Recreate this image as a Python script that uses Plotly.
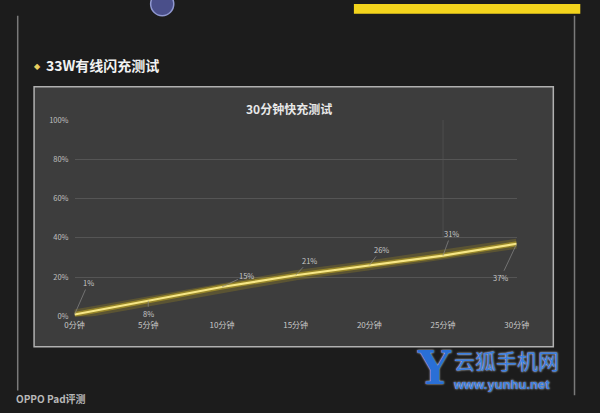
import plotly.graph_objects as go

minutes = [0, 5, 10, 15, 20, 25, 30]
x_labels = ["0分钟", "5分钟", "10分钟", "15分钟", "20分钟", "25分钟", "30分钟"]
battery = [1, 8, 15, 21, 26, 31, 37]
point_labels = ["1%", "8%", "15%", "21%", "26%", "31%", "37%"]
y_ticks = [0, 20, 40, 60, 80, 100]
y_tick_labels = ["0%", "20%", "40%", "60%", "80%", "100%"]

W, H = 600, 413
def px(x): return x / W
def py(y): return 1 - y / H

fig = go.Figure()
# glow
fig.add_trace(go.Scatter(x=minutes, y=battery, mode="lines",
                         line=dict(color="rgba(200,170,20,0.22)", width=10),
                         hoverinfo="skip", showlegend=False))
fig.add_trace(go.Scatter(x=minutes, y=battery, mode="lines",
                         line=dict(color="rgba(220,190,30,0.45)", width=5),
                         hoverinfo="skip", showlegend=False))
fig.add_trace(go.Scatter(x=minutes, y=battery, mode="lines",
                         line=dict(color="#f6e685", width=2.2),
                         showlegend=False))

offsets = [(14, -32), (0, 13), (25, -12), (14, -15), (12, -16), (8, -22), (-16, 34)]
annotations = []
for m, v, t, (ax, ay) in zip(minutes, battery, point_labels, offsets):
    annotations.append(dict(x=m, y=v, xref="x", yref="y", text=t, showarrow=True,
                            arrowhead=0, arrowwidth=0.7, arrowcolor="#8a8a8a",
                            ax=ax, ay=ay, font=dict(size=7.5, color="#c8c8c8",
                            family="Noto Sans CJK SC"), standoff=0, startstandoff=0))

annotations += [
    dict(text="<b>30分钟快充测试</b>", x=px(290), y=py(105), xref="paper", yref="paper",
         showarrow=False, font=dict(size=12, color="#e8e8e8", family="Noto Sans CJK SC"),
         xanchor="center", yanchor="middle"),
    dict(text="<b>33W有线闪充测试</b>", x=px(35), y=py(61), xref="paper", yref="paper",
         showarrow=False, font=dict(size=14, color="#f2f2f2", family="Noto Sans CJK SC"),
         xanchor="left", yanchor="middle"),
    dict(text="◆", x=px(29), y=py(61), xref="paper", yref="paper", showarrow=False,
         font=dict(size=8, color="#e8d060"), xanchor="center", yanchor="middle"),
    dict(text="<b>OPPO Pad评测</b>", x=px(4), y=py(403), xref="paper", yref="paper",
         showarrow=False, font=dict(size=10, color="#b8b8b8", family="Noto Sans CJK SC"),
         xanchor="left", yanchor="middle"),
    dict(text="<b>Y</b>", x=px(441), y=py(372), xref="paper", yref="paper",
         showarrow=False, font=dict(size=46, color="#2a6fd6", family="DejaVu Serif",
                                    shadow="0 0 2px #ffffff"),
         xanchor="center", yanchor="middle"),
    dict(text="云狐手机网", x=px(459), y=py(364), xref="paper", yref="paper",
         showarrow=False, font=dict(size=21, color="#3a7ee0", family="Noto Sans CJK SC",
                                    shadow="0 0 2px #ffffff"),
         xanchor="left", yanchor="middle"),
    dict(text="<b>www.yunhu.net</b>", x=px(458), y=py(389), xref="paper", yref="paper",
         showarrow=False, font=dict(size=13, color="#3a7ee0", family="Liberation Sans",
                                    shadow="0 0 2px #ffffff"),
         xanchor="left", yanchor="middle"),
]

shapes = [
    dict(type="rect", xref="paper", yref="paper", x0=px(25), x1=px(564), y0=py(350), y1=py(83),
         fillcolor="#3d3d3d", line=dict(color="#b0b0b0", width=1.5), layer="below"),
    dict(type="line", xref="paper", yref="paper", x0=px(8), x1=px(8), y0=py(10), y1=py(395),
         line=dict(color="#7a7a7a", width=1.5), layer="below"),
    dict(type="line", xref="paper", yref="paper", x0=px(586), x1=px(586), y0=py(10), y1=py(400),
         line=dict(color="#7a7a7a", width=1.5), layer="below"),
    dict(type="rect", xref="paper", yref="paper", x0=px(357), x1=px(592), y0=py(8), y1=py(-2),
         fillcolor="#f3d41c", line=dict(color="#f3d41c", width=0), layer="below"),
    dict(type="circle", xref="paper", yref="paper", x0=px(146), x1=px(170), y0=py(10), y1=py(-14),
         fillcolor="#4a4f8a", line=dict(color="#9098d0", width=1.5), layer="below"),
    dict(type="line", xref="x", yref="y", x0=minutes[5], x1=minutes[5], y0=40, y1=y_ticks[-1],
         line=dict(color="#4d4d4d", width=1), layer="below"),
]

fig.update_layout(
    width=W, height=H,
    paper_bgcolor="#1c1c1c", plot_bgcolor="rgba(0,0,0,0)",
    margin=dict(l=0, r=0, t=0, b=0),
    annotations=annotations, shapes=shapes,
    xaxis=dict(domain=[px(67), px(526)], range=[0, 30], tickvals=minutes, ticktext=x_labels,
               showgrid=False, zeroline=False, showline=False, ticklabelstandoff=2,
               tickfont=dict(size=8, color="#c8c8c8", family="Noto Sans CJK SC")),
    yaxis=dict(domain=[py(319), py(117)], range=[0, 100], tickvals=y_ticks, ticktext=y_tick_labels,
               showgrid=True, gridcolor="#555555", gridwidth=1.2, zeroline=False, showline=False,
               ticklabelstandoff=5,
               tickfont=dict(size=7.5, color="#c0c0c0", family="Noto Sans CJK SC")),
)

fig.write_html("out.html", config={"displayModeBar": False},
               post_script="document.body.style.margin='0';document.body.style.overflow='hidden';")
